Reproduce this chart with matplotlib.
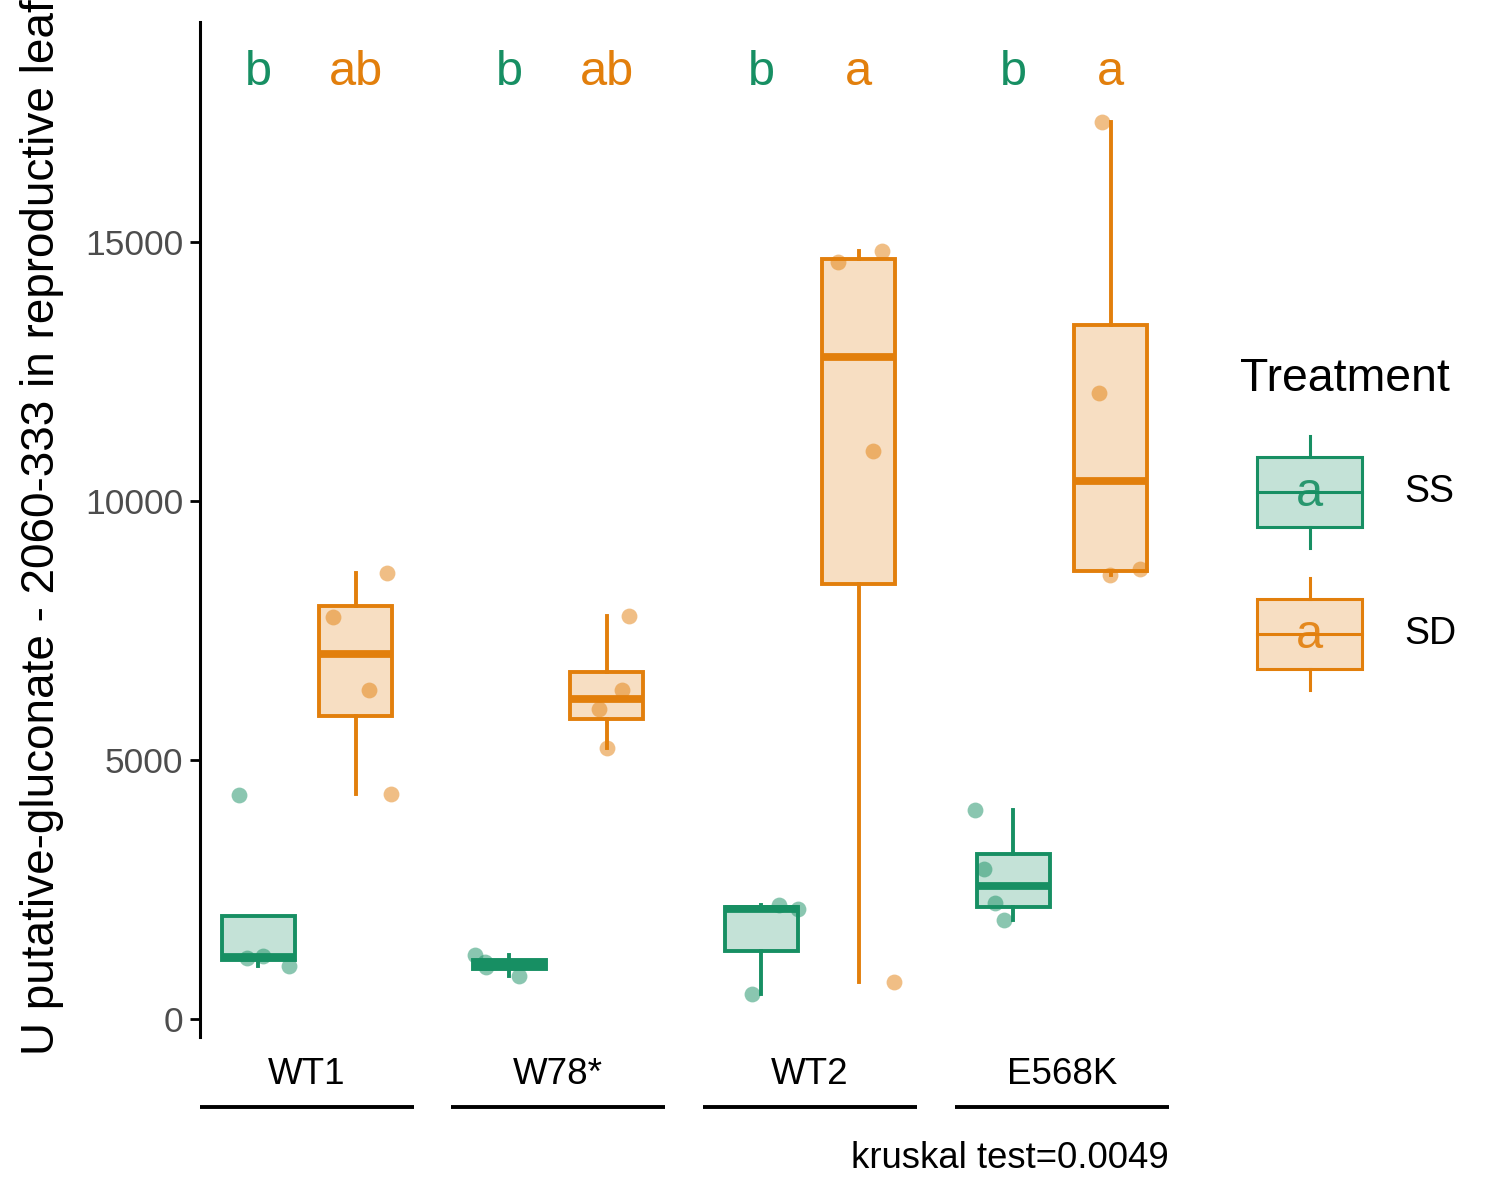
import matplotlib
matplotlib.use("Agg")
import matplotlib.pyplot as plt
from matplotlib.patches import Rectangle

plt.rcParams['font.family'] = ['Liberation Sans', 'DejaVu Sans']

# data
genotypes = ["WT1", "W78*", "WT2", "E568K"]
treatments = ["SS", "SD"]
ss_values = [[4324, 1178, 1216, 1023], [1236, 1100, 1004, 830],
             [483, 2200, 2123], [4034, 2895, 2239, 1911]]
ss_jitter = [[-0.20, -0.12, 0.05, 0.32], [-0.35, -0.25, -0.24, 0.10],
             [-0.10, 0.18, 0.38], [-0.39, -0.30, -0.19, -0.10]]
sd_values = [[8608, 7759, 6350, 4343], [7780, 6350, 5985, 5232],
             [14614, 14826, 10965, 714], [17312, 12082, 8570, 8686]]
sd_jitter = [[0.32, -0.23, 0.14, 0.36], [0.23, 0.16, -0.08, 0.0],
             [-0.21, 0.24, 0.15, 0.36], [-0.09, -0.12, -0.01, 0.30]]
ss_letters = ["b", "b", "b", "b"]
sd_letters = ["ab", "ab", "a", "a"]
letter_y = 18277
yticks = [0, 5000, 10000, 15000]
pvalue_text = "kruskal test=0.0049"

colors = {"SS": "#178F63", "SD": "#E27F0C"}

fig = plt.figure(figsize=(15, 12), dpi=100)
W, H = 1500, 1200
panel_left = [200, 451, 703, 955]
panel_w = 214
top, bottom = 22, 1037


def box(ax, vals, pos, col):
    bp = ax.boxplot(vals, positions=[pos], widths=0.75, whis=1.5, showfliers=False,
                    showcaps=False, patch_artist=True, manage_ticks=False)
    for b in bp['boxes']:
        b.set_facecolor(matplotlib.colors.to_rgba(col, 0.25))
        b.set_edgecolor(col)
        b.set_linewidth(2.8)
    for w in bp['whiskers']:
        w.set_color(col)
        w.set_linewidth(2.8)
    for m in bp['medians']:
        m.set_color(col)
        m.set_linewidth(5.6)
        m.set_solid_capstyle('butt')


axes = []
for i, g in enumerate(genotypes):
    ax = fig.add_axes([panel_left[i] / W, 1 - bottom / H, panel_w / W, (bottom - top) / H])
    axes.append(ax)
    box(ax, ss_values[i], 1, colors["SS"])
    box(ax, sd_values[i], 2, colors["SD"])
    ax.scatter([1 + j for j in ss_jitter[i]], ss_values[i], s=130, color=colors["SS"],
               alpha=0.5, linewidths=0, zorder=5)
    ax.scatter([2 + j for j in sd_jitter[i]], sd_values[i], s=130, color=colors["SD"],
               alpha=0.5, linewidths=0, zorder=5)
    ax.text(1, letter_y, ss_letters[i], color=colors["SS"], fontsize=35, ha='center', va='center')
    ax.text(2, letter_y, sd_letters[i], color=colors["SD"], fontsize=35, ha='center', va='center')
    ax.set_xlim(0.4, 2.6)
    ax.set_ylim(-350, 19250)
    ax.set_xticks([])
    for s in ax.spines.values():
        s.set_visible(False)
    if i == 0:
        ax.spines['left'].set_visible(True)
        ax.spines['left'].set_linewidth(2.2)
        ax.set_yticks(yticks)
        ax.tick_params(axis='y', labelsize=25.5, labelcolor='#4D4D4D', length=7, width=2, pad=5)
    else:
        ax.set_yticks([])
    ax.text(0.5, -0.0374, g, transform=ax.transAxes, ha='center', va='center', fontsize=26.5)
    ax.plot([0, 1], [-0.069, -0.069], transform=ax.transAxes, color='black', lw=2.8,
            clip_on=False, solid_capstyle='butt')

fig.text(42 / W, 1 - 527 / H, "U putative-gluconate - 2060-333 in reproductive leaf",
         rotation=90, ha='center', va='center', fontsize=33)
fig.text(1169 / W, 1 - 1158 / H, pvalue_text, ha='right', va='center', fontsize=26.3)

# legend drawn in pixel coordinates
lg = fig.add_axes([0, 0, 1, 1])
lg.set_xlim(0, W)
lg.set_ylim(H, 0)
lg.axis('off')
lg.text(1240, 379, "Treatment", fontsize=33.4, ha='left', va='center')
for k, (t, yc) in enumerate(zip(treatments, [492, 634])):
    col = colors[t]
    lg.add_patch(Rectangle((1257, yc - 35), 105, 70, facecolor=matplotlib.colors.to_rgba(col, 0.25),
                           edgecolor=col, lw=2.2))
    lg.plot([1257, 1362], [yc, yc], color=col, lw=2.2)
    lg.plot([1309.5, 1309.5], [yc - 56, yc - 35], color=col, lw=2.2)
    lg.plot([1309.5, 1309.5], [yc + 35, yc + 56], color=col, lw=2.2)
    lg.text(1309.5, yc + 2, "a", color=col, fontsize=35, ha='center', va='center', alpha=0.9)
    lg.text(1404, yc, t, fontsize=27, ha='left', va='center')

fig.savefig("out.png", dpi=100)
